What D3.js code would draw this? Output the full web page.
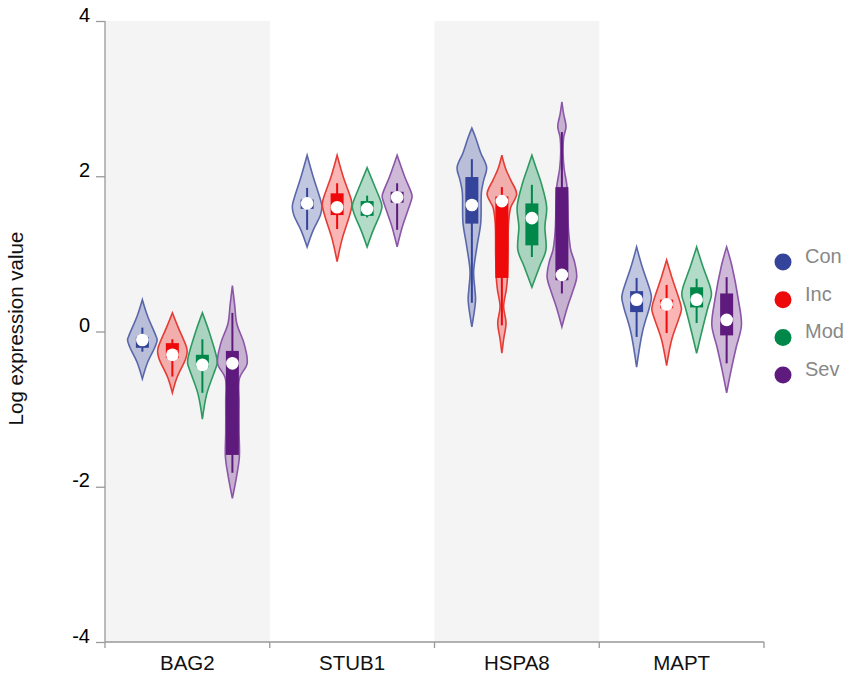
<!DOCTYPE html>
<html><head><meta charset="utf-8">
<script src="https://cdn.jsdelivr.net/npm/d3@7"></script>
<style>body{margin:0;background:#fff}svg{display:block}text{font-family:"Liberation Sans",Arial,sans-serif}</style>
</head><body><svg id="c" width="851" height="677"></svg>
<script>
const genes = ["BAG2","STUB1","HSPA8","MAPT"];
const groups = ["Con","Inc","Mod","Sev"];
const yTicks = [4,2,0,-2,-4];
const darkColors = ["#33449a","#ee0a0a","#00884a","#5e1a7d"];
const lineColors = ["#5a67aa","#e53c35","#2e9960","#8b55a8"];
// [gene][group]
const medians = [[-0.11,-0.30,-0.43,-0.41],[1.65,1.60,1.58,1.73],[1.63,1.68,1.46,0.73],[0.41,0.35,0.41,0.15]];
const q1 = [[-0.21,-0.34,-0.46,-1.59],[1.58,1.50,1.49,1.66],[1.39,0.69,1.11,0.66],[0.25,0.30,0.31,-0.05]];
const q3 = [[-0.07,-0.15,-0.30,-0.25],[1.70,1.78,1.68,1.80],[1.99,1.74,1.65,1.86],[0.52,0.41,0.57,0.49]];
const whiskLo = [[-0.26,-0.58,-0.79,-1.82],[1.31,1.32,1.47,1.31],[0.37,0.08,0.96,0.49],[-0.07,-0.02,0.11,-0.41]];
const whiskHi = [[0.05,-0.10,-0.10,0.24],[1.85,1.91,1.75,1.91],[2.22,1.86,1.89,2.57],[0.69,0.60,0.68,0.70]];
// violin outlines: [value, relative half-width]
const profiles = [
 [
  [[0.41,0],[0.2,0.35],[-0.05,0.9],[-0.11,1],[-0.2,0.85],[-0.4,0.35],[-0.61,0]],
  [[0.24,0],[0.05,0.4],[-0.2,0.95],[-0.26,1],[-0.35,0.9],[-0.6,0.3],[-0.79,0]],
  [[0.24,0],[0.0,0.45],[-0.35,0.98],[-0.41,1],[-0.5,0.85],[-0.8,0.3],[-1.13,0]],
  [[0.59,0],[0.35,0.15],[0.1,0.3],[-0.15,0.78],[-0.41,1],[-0.6,0.48],[-0.9,0.45],[-1.3,0.45],[-1.62,0.47],[-1.87,0.28],[-2.15,0]]
 ],
 [
  [[2.27,0],[2.0,0.4],[1.65,0.97],[1.60,1],[1.5,0.9],[1.3,0.4],[1.09,0]],
  [[2.27,0],[2.0,0.4],[1.7,0.95],[1.63,1],[1.5,0.85],[1.2,0.35],[0.9,0]],
  [[2.11,0],[1.9,0.45],[1.65,0.97],[1.60,1],[1.5,0.85],[1.3,0.4],[1.09,0]],
  [[2.27,0],[2.0,0.5],[1.76,1],[1.72,1],[1.6,0.8],[1.35,0.35],[1.09,0]]
 ],
 [
  [[2.62,0],[2.5,0.25],[2.3,0.6],[2.11,1],[1.95,0.8],[1.8,0.65],[1.4,0.6],[1.1,0.35],[0.77,0.12],[0.55,0.2],[0.41,0.25],[0.2,0.12],[0.06,0]],
  [[2.27,0],[2.1,0.25],[1.95,0.6],[1.77,1],[1.6,0.6],[1.4,0.45],[1.0,0.42],[0.7,0.38],[0.54,0.3],[0.32,0.12],[0.11,0.28],[-0.1,0.12],[-0.28,0]],
  [[2.27,0],[2.1,0.3],[1.9,0.65],[1.6,1],[1.35,0.88],[1.05,0.95],[0.85,0.55],[0.7,0.25],[0.57,0]],
  [[2.96,0],[2.8,0.12],[2.64,0.28],[2.5,0.12],[2.3,0.08],[2.1,0.15],[1.86,0.35],[1.3,0.45],[1.05,0.6],[0.9,0.85],[0.70,1],[0.5,0.7],[0.3,0.35],[0.06,0]]
 ],
 [
  [[1.09,0],[0.85,0.35],[0.5,0.95],[0.43,1],[0.3,0.85],[0.0,0.4],[-0.46,0]],
  [[0.92,0],[0.7,0.35],[0.35,0.95],[0.28,1],[0.15,0.8],[-0.1,0.35],[-0.44,0]],
  [[1.09,0],[0.85,0.4],[0.55,0.95],[0.47,1],[0.3,0.75],[0.0,0.35],[-0.28,0]],
  [[1.09,0],[0.85,0.35],[0.4,0.8],[0.08,1],[-0.2,0.65],[-0.5,0.3],[-0.79,0]]
 ]
];

const svg = d3.select("#c");
const m = {l:105, t:21, r:87, b:35};
const W = 851 - m.l - m.r, H = 677 - m.t - m.b;
const g = svg.append("g").attr("transform", `translate(${m.l},${m.t})`);
const x = d3.scaleBand().domain(genes).range([0, W]);
const xi = d3.scaleBand().domain(groups).range([0, x.bandwidth()]).paddingInner(0).paddingOuter(0.745);
const y = d3.scaleLinear().domain([-4, 4]).range([H, 0]);
const wScale = d3.scaleLinear().domain([0, 1]).range([0, 14.8]);

// shaded bands
g.selectAll("rect.band").data(genes.filter((d,i)=>i%2===0)).join("rect")
  .attr("x", d=>x(d)).attr("y", 0).attr("width", x.bandwidth()).attr("height", H)
  .attr("fill", "#f4f4f4");

genes.forEach((gene, gi) => {
  groups.forEach((grp, k) => {
    const cx = x(gene) + xi(grp) + xi.bandwidth()/2;
    const prof = profiles[gi][k];
    const area = d3.area()
      .y(d => y(d[0]))
      .x0(d => cx - wScale(d[1]))
      .x1(d => cx + wScale(d[1]))
      .curve(d3.curveCatmullRom.alpha(0.5));
    g.append("path").datum(prof).attr("d", area)
      .attr("fill", darkColors[k]).attr("fill-opacity", 0.3)
      .attr("stroke", lineColors[k]).attr("stroke-width", 1.6);
    g.append("line").attr("x1", cx).attr("x2", cx)
      .attr("y1", y(whiskHi[gi][k])).attr("y2", y(whiskLo[gi][k]))
      .attr("stroke", darkColors[k]).attr("stroke-width", 2);
    g.append("rect").attr("x", cx - 6.5).attr("width", 13)
      .attr("y", y(q3[gi][k])).attr("height", y(q1[gi][k]) - y(q3[gi][k]))
      .attr("fill", darkColors[k]);
    g.append("circle").attr("cx", cx).attr("cy", y(medians[gi][k])).attr("r", 6.3)
      .attr("fill", "#fff");
  });
});

// y axis
const yAxis = g.append("g").call(d3.axisLeft(y).tickValues(yTicks).tickSize(9).tickPadding(6).tickFormat(d => String(d)));
yAxis.select(".domain").attr("stroke", "#999").attr("stroke-width", 1.3).attr("d", `M0,0V${H}`);
yAxis.selectAll(".tick line").attr("stroke", "#999").attr("stroke-width", 1.3);
yAxis.selectAll(".tick text").attr("font-size", 20).attr("fill", "#000").attr("dy", "0em").attr("font-family", "Liberation Sans, Arial, sans-serif");

// x axis
const xg = g.append("g").attr("transform", `translate(0,${H})`);
xg.append("line").attr("x1", 0).attr("x2", W).attr("stroke", "#999").attr("stroke-width", 1.3);
const bounds = genes.map(d => x(d)).concat([W]);
xg.selectAll("line.tk").data(bounds).join("line")
  .attr("x1", d=>d).attr("x2", d=>d).attr("y1", 0).attr("y2", 6)
  .attr("stroke", "#999").attr("stroke-width", 1.3);
xg.selectAll("text").data(genes).join("text")
  .attr("x", d => x(d) + x.bandwidth()/2).attr("y", 28)
  .attr("text-anchor", "middle").attr("font-size", 20.5).attr("fill", "#111").text(d=>d);

// y label
svg.append("text").attr("transform", `translate(23,${m.t + y(0) - 3}) rotate(-90)`)
  .attr("text-anchor", "middle").attr("font-size", 20.5).attr("fill", "#111").text("Log expression value");

// legend
const lg = svg.append("g").attr("transform", "translate(783,262)");
groups.forEach((grp, k) => {
  lg.append("circle").attr("cx", 0).attr("cy", k*37.7).attr("r", 8.5).attr("fill", darkColors[k]);
  lg.append("text").attr("x", 22).attr("y", k*37.7 + 1).attr("font-size", 20).attr("fill", "#888").text(grp);
});
</script></body></html>
